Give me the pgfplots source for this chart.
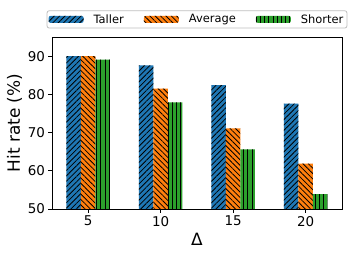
\documentclass[border=0pt]{standalone}
\usepackage{fontspec}
\setmainfont{DejaVu Sans}
\usepackage{pgfplots}
\pgfplotsset{compat=1.18}
\usetikzlibrary{patterns.meta}
\definecolor{tabblue}{HTML}{1F77B4}
\definecolor{taborange}{HTML}{FF7F0E}
\definecolor{tabgreen}{HTML}{2CA02C}
\newcommand{\lf}{\fontsize{11.5}{13}\selectfont}
\pgfplotsset{
  mylegend/.style={legend image code/.code={\path[##1] (0bp,-3.5bp) rectangle (35bp,3.5bp);}},
}
\begin{document}
\begin{tikzpicture}
\begin{axis}[
  scale only axis, width=290bp, height=172bp,
  ybar=0pt, bar width=0.2,
  xmin=-0.5, xmax=3.5, ymin=50, ymax=95,
  xtick={0,1,2,3}, xticklabels={5,10,15,20},
  ytick={50,60,70,80,90},
  xlabel={Δ}, ylabel={Hit rate (\%)},
  tick label style={font=\fontsize{13.5}{16}\selectfont},
  label style={font=\fontsize{17}{20}\selectfont},
  ylabel style={yshift=-1bp},
  /pgf/number format/assume math mode=true,
  tick align=outside, tick pos=left, major tick length=3.5bp,
  axis line style={line width=0.8bp},
  every tick/.style={black, line width=0.8bp},
  legend style={at={(0.5,1.05)}, anchor=south, legend columns=3,
    draw=black!25, line width=0.8bp, rounded corners=2bp,
    inner xsep=1.5bp, inner ysep=1.5bp,
    nodes={inner sep=2bp},
    /tikz/every odd column/.append style={column sep=8bp},
    /tikz/every even column/.append style={column sep=18bp}},
]
\addplot[fill=tabblue, draw=none, pattern color=black, mylegend,
  postaction={pattern={Lines[angle=45,distance=3.8bp,line width=0.8bp]}}]
  coordinates {(0,90) (1,87.6) (2,82.4) (3,77.6)};
\addplot[fill=taborange, draw=none, pattern color=black, mylegend,
  postaction={pattern={Lines[angle=-45,distance=3.8bp,line width=0.8bp]}}]
  coordinates {(0,90) (1,81.5) (2,71.1) (3,61.9)};
\addplot[fill=tabgreen, draw=none, pattern color=black, mylegend,
  postaction={pattern={Lines[angle=90,distance=4.2bp,line width=0.8bp]}}]
  coordinates {(0,89.1) (1,77.9) (2,65.6) (3,53.9)};
\legend{{\lf Taller}, {\lf Average}, {\lf Shorter}}
\end{axis}
\pgfresetboundingbox
\path ([shift={(-52bp,-44bp)}]current axis.south west) rectangle ([shift={(17bp,37bp)}]current axis.north east);
\end{tikzpicture}
\end{document}
